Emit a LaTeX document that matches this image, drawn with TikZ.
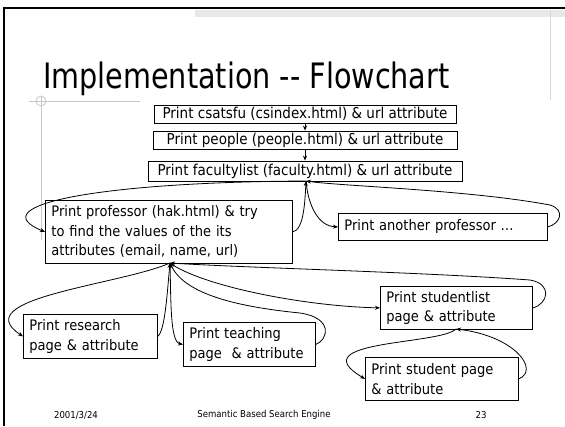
\documentclass[tikz,border=0pt]{standalone}
\usepackage{fontspec}
\setmainfont{DejaVu Sans Condensed}
\newfontfamily\titlefont[FakeStretch=0.91]{DejaVu Sans Condensed}
\usetikzlibrary{arrows.meta}
\tikzset{
  flowbox/.style={draw, line width=0.8pt, inner sep=0pt, font=\fontsize{15}{17}\selectfont},
  textbox/.style={draw, line width=0.8pt, inner xsep=6pt, inner ysep=2pt,
                  font=\fontsize{14.5}{19.5}\selectfont, align=left},
  arr/.style={line width=0.8pt, -{Stealth[length=5pt,width=4pt]}},
  guide/.style={draw=black!22, line width=0.8pt},
  foot/.style={font=\fontsize{9.5}{11}\selectfont}
}
\begin{document}
\begin{tikzpicture}[x=1pt,y=-1pt]
\useasboundingbox (0,0) rectangle (565,426);
\fill[white] (0,0) rectangle (565,426);

% slide frame and header band
\fill[black!9] (195,10) rectangle (565,17);
\draw[black!15, line width=0.8pt] (550,10) -- (550,100);
\draw[line width=2pt] (4,426) -- (4,8) -- (565,8);

% title guide lines
\draw[guide] (29,101) -- (140,101);
\draw[guide] (41,96) -- (41,240);
\draw[guide] (41,101) circle (5);

% title
\node[anchor=base west, inner sep=0pt, font=\titlefont\fontsize{35}{40}\selectfont] (title) at (43,88) {Implementation -{}- Flowchart};

% top chain
\node[flowbox, minimum width=302, minimum height=18] (b1) at (305,114) {Print csatsfu (csindex.html) \& url attribute};
\node[flowbox, minimum width=304, minimum height=18] (b2) at (305,140) {Print people (people.html) \& url attribute};
\node[flowbox, minimum width=314, minimum height=20] (b3) at (305,171) {Print facultylist (faculty.html) \& url attribute};

% second level
\node[textbox, anchor=north west, minimum width=247, minimum height=63, text width=235] (prof) at (45,200)
  {Print professor (hak.html) \& try\\to find the values of the its\\attributes (email, name, url)};
\node[textbox, anchor=north west, minimum width=209, minimum height=27, text width=197] (other) at (338,213)
  {Print another professor \dots};

% third level
\node[textbox, anchor=north west, minimum width=134, minimum height=44, text width=122] (res) at (23,314)
  {Print research\\page \& attribute};
\node[textbox, anchor=north west, minimum width=132, minimum height=44, text width=120] (teach) at (183,322)
  {Print teaching\\page\ \ \& attribute};
\node[textbox, anchor=north west, minimum width=152, minimum height=43, text width=140] (slist) at (380,286)
  {Print studentlist\\page \& attribute};
\node[textbox, anchor=north west, minimum width=153, minimum height=43, text width=141] (stu) at (365,357)
  {Print student page\\\& attribute};

% junction points under the boxes
\coordinate (h1) at (306,181);
\coordinate (h2) at (170,263);
\coordinate (sb) at (456,329);

% straight chain
\draw[arr] (b1) -- (b2);
\draw[arr] (b2) -- (b3);

% professor level
\draw[arr] (h1) .. controls (100,182) and (-20,205) .. (prof.west);
\draw[arr] (prof.east) .. controls (304,230) and (305,200) .. (h1);
\draw[arr] (h1) .. controls (308,205) and (318,226) .. (other.west);
\draw[arr] (other.east) .. controls (560,224) and (566,210) .. (550,205)
                       .. controls (470,190) and (340,186) .. (h1);

% research / teaching / students
\draw[arr] (h2) .. controls (120,285) and (-35,298) .. (res.west);
\draw[arr] (res.east) .. controls (165,330) and (167,295) .. (h2);
\draw[arr] (h2) .. controls (171,300) and (170,342) .. (teach.west);
\draw[arr] (teach.east) .. controls (328,340) and (334,318) .. (300,313)
                        .. controls (240,307) and (185,295) .. (h2);
\draw[arr] (h2) .. controls (200,285) and (300,306) .. (slist.west);
\draw[arr] (slist.east) .. controls (548,304) and (553,284) .. (530,280)
                        .. controls (420,272) and (250,268) .. (h2);
\draw[arr] (sb) .. controls (440,345) and (300,340) .. (stu.west);
\draw[arr] (stu.east) .. controls (540,370) and (515,336) .. (sb);

% footer
\node[foot] (date) at (76,415) {2001/3/24};
\node[foot] (ttl) at (264,415) {Semantic Based Search Engine};
\node[foot] (pg) at (481,415) {23};
\end{tikzpicture}
\end{document}
